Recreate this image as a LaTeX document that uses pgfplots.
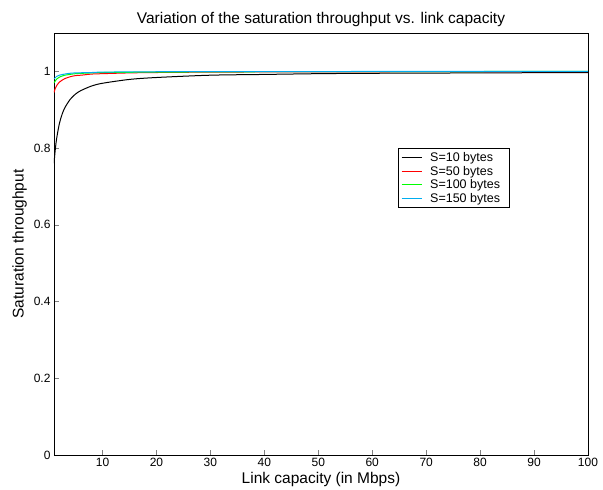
\documentclass[border=0pt]{standalone}
\usepackage{fontspec}
\setmainfont{Liberation Sans}
\usepackage{pgfplots}
\pgfplotsset{compat=1.18}
\newcommand{\legtxt}[1]{\hspace*{6pt}\makebox[74pt][l]{#1}}
\begin{document}
\begin{tikzpicture}
\begin{axis}[
  scale only axis,
  width=534pt, height=422pt,
  xmin=1, xmax=100, ymin=0, ymax=1.1,
  xtick={10,20,30,40,50,60,70,80,90,100},
  ytick={0,0.2,0.4,0.6,0.8,1},
  yticklabels={0,0.2,0.4,0.6,0.8,1},
  xtick pos=bottom, ytick pos=left,
  tick align=inside,
  major tick length=5pt,
  /pgf/number format/assume math mode=true,
  tick label style={font=\fontsize{12}{14}\selectfont},
  label style={font=\fontsize{15.5}{18}\selectfont},
  title style={font=\fontsize{15.5}{18}\selectfont, yshift=-3pt},
  title={Variation of the saturation throughput vs. link capacity},
  xlabel={Link capacity (in Mbps)},
  ylabel={Saturation throughput},
  xlabel style={yshift=2pt},
  ylabel style={yshift=0pt},
  axis line style={line width=0.6pt},
  every axis plot/.append style={line width=1pt},
  legend style={at={(0.644,0.727)}, anchor=north west, draw=black, line width=0.6pt,
    font=\fontsize{12.5}{14}\selectfont, inner xsep=3pt, inner ysep=2pt, row sep=-1pt,
    legend cell align=left},
  legend image code/.code={\draw[#1, line width=1pt] (0pt,0pt) -- (20pt,0pt);},
]
\addplot[black, smooth] coordinates {
(1,0.760)(1.25,0.798)(1.5,0.826)(2,0.864)(2.5,0.888)(3,0.905)(4,0.927)(5,0.941)(6,0.950)(8,0.962)(10,0.969)(15,0.979)(20,0.984)(30,0.990)(40,0.992)(50,0.994)(60,0.995)(80,0.996)(100,0.997)};
\addlegendentry{\legtxt{S=10 bytes}}
\addplot[red, smooth] coordinates {
(1,0.945)(1.25,0.956)(1.5,0.963)(2,0.972)(2.5,0.977)(3,0.981)(4,0.986)(5,0.989)(6,0.990)(8,0.993)(10,0.994)(15,0.996)(20,0.997)(30,0.998)(50,0.9988)(100,0.9994)};
\addlegendentry{\legtxt{S=50 bytes}}
\addplot[green, smooth] coordinates {
(1,0.970)(1.5,0.980)(2,0.985)(3,0.990)(4,0.992)(5,0.994)(8,0.996)(10,0.997)(20,0.998)(50,0.9994)(100,0.9997)};
\addlegendentry{\legtxt{S=100 bytes}}
\addplot[cyan, smooth] coordinates {
(1,0.980)(1.5,0.987)(2,0.990)(3,0.993)(4,0.995)(5,0.996)(8,0.997)(10,0.998)(20,0.999)(50,0.9996)(100,0.9998)};
\addlegendentry{\legtxt{S=150 bytes}}
\end{axis}
\useasboundingbox (-54pt,-34pt) rectangle (549pt,455pt);
\end{tikzpicture}
\end{document}
